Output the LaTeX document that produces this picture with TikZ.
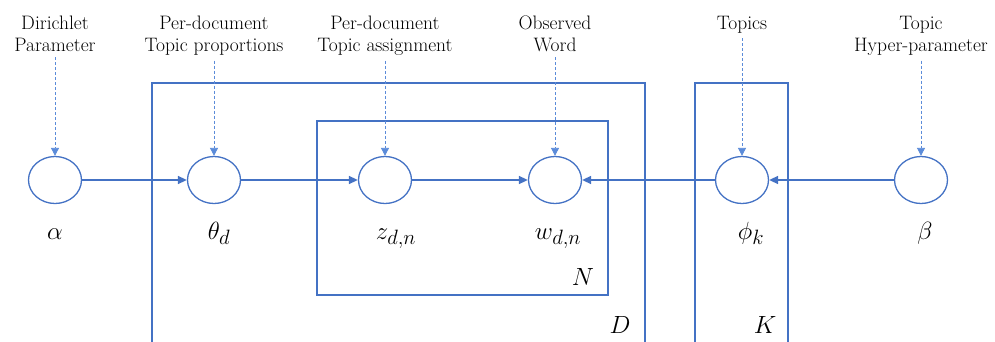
\documentclass[tikz,border=0pt]{standalone}
\usetikzlibrary{arrows.meta,shapes.geometric}
\definecolor{lblue}{HTML}{4472C4}
\definecolor{dblue}{HTML}{5B8BD9}
\begin{document}
\begin{tikzpicture}[x=1pt,y=-1pt,
  var/.style={draw=lblue,ellipse,minimum width=53pt,minimum height=47pt,inner sep=0pt,line width=1.3pt},
  lab/.style={font=\fontsize{19.5}{22}\selectfont,align=center,inner sep=0pt,anchor=north},
  mlab/.style={font=\fontsize{29}{32}\selectfont,inner sep=0pt,anchor=base},
  arr/.style={draw=lblue,line width=1.6pt,-{Triangle[length=9pt,width=8pt]}},
  dasharr/.style={draw=dblue,line width=0.8pt,dash pattern=on 3pt off 2pt,-{Triangle[length=8pt,width=8pt]},shorten <=5pt},
  plate/.style={draw=lblue,line width=1.3pt}]
\useasboundingbox (0,0) rectangle (995,342);
% plates
\draw[plate] (152,345) -- (152,83) -- (645,83) -- (645,345);
\draw[plate] (695,345) -- (695,83) -- (788,83) -- (788,345);
\draw[plate] (317,121) rectangle (608,295);
\node[mlab] (N) at (583,285) {$N$};
\node[mlab] (D) at (620,333) {$D$};
\node[mlab] (K) at (765,333) {$K$};
% variables
\node[var] (alpha) at (55,180) {};
\node[var] (theta) at (214,180) {};
\node[var] (z) at (385,180) {};
\node[var] (w) at (555,180) {};
\node[var] (phi) at (742,180) {};
\node[var] (beta) at (921,180) {};
% math labels
\node[mlab] (lalpha) at (55,239) {$\alpha$};
\node[mlab] (ltheta) at (219,239) {$\theta_d$};
\node[mlab] (lz) at (396,239) {$z_{d,n}$};
\node[mlab] (lw) at (558,239) {$w_{d,n}$};
\node[mlab] (lphi) at (751,239) {$\phi_k$};
\node[mlab] (lbeta) at (925,239) {$\beta$};
% top labels
\node[lab] (talpha) at (55,16) {Dirichlet\\Parameter};
\node[lab] (ttheta) at (214,16) {Per-document\\Topic proportions};
\node[lab] (tz) at (385,16) {Per-document\\Topic assignment};
\node[lab] (tw) at (555,16) {Observed\\Word};
\node[lab] (tphi) at (742,16) {Topics};
\node[lab] (tbeta) at (921,16) {Topic\\Hyper-parameter};
% dashed arrows
\foreach \t/\v in {talpha/alpha,ttheta/theta,tz/z,tw/w,tphi/phi,tbeta/beta}
  \draw[dasharr] (\t.south) -- (\v.north);
% arrows
\draw[arr] (alpha) -- (theta);
\draw[arr] (theta) -- (z);
\draw[arr] (z) -- (w);
\draw[arr] (phi) -- (w);
\draw[arr] (beta) -- (phi);
\end{tikzpicture}
\end{document}
